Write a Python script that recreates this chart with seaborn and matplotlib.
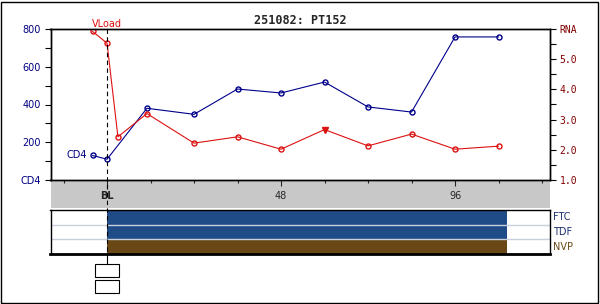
import matplotlib
matplotlib.use("Agg")
import matplotlib.pyplot as plt
import seaborn as sns
import pandas as pd
from matplotlib.patches import Rectangle
from matplotlib.lines import Line2D
import matplotlib.transforms as mtransforms

# ---------------- data ----------------
title = "251082: PT152"
cd4_weeks = [-4, 0, 11, 24, 36, 48, 60, 72, 84, 96, 108]
cd4_vals = [130, 110, 380, 348, 482, 461, 519, 387, 360, 758, 758]
vl_weeks = [-4, 0, 3, 11, 24, 36, 48, 60, 72, 84, 96, 108]
vl_vals = [5.92, 5.53, 2.43, 3.20, 2.22, 2.43, 2.02, 2.67, 2.13, 2.52, 2.02, 2.12]
vl_marker = ["o", "o", "o", "o", "o", "o", "o", "v", "o", "o", "o", "o"]
x_major = [0, 48, 96]
x_major_labels = ["BL", "48", "96"]
x_minor = [-12, 12, 24, 36, 60, 72, 84, 108, 120]
cd4_ticks = [0, 200, 400, 600, 800]
cd4_tick_labels = ["CD4", "200", "400", "600", "800"]
rna_ticks = [1, 2, 3, 4, 5, 6]
rna_tick_labels = ["1.0", "2.0", "3.0", "4.0", "5.0", "RNA"]
drugs = ["FTC", "TDF", "NVP"]
drug_start = [0, 0, 0]
drug_end = [110.3, 110.3, 110.3]
drug_colors = ["#1f4b86", "#1f4b86", "#6a4815"]
drug_label_colors = ["#1a2f6e", "#1a2f6e", "#6a4815"]

# ---------------- layout helpers ----------------
W, H = 600, 304
fig = plt.figure(figsize=(W / 100, H / 100), dpi=100)
sns.set_style("white")
plt.rcParams["font.family"] = ["DejaVu Sans"]


def fx(x):
    return x / W


def fy(y):
    return 1 - y / H


XMIN, XMAX = -15.6, 122.2
L, R, T, B = 50.5, 550, 29, 180

ax = fig.add_axes([fx(L), fy(B), fx(R - L), (B - T) / H])
ax.set_xlim(XMIN, XMAX)
ax.set_ylim(0, 800)
ax.set_facecolor("white")
ax2 = ax.twinx()
ax2.set_ylim(1, 6)

navy = "#000080"
cd4_col = "#00008b"
vl_col = "#dd1111"
rna_col = "#800000"

# CD4 series
df_cd4 = pd.DataFrame({"week": cd4_weeks, "cd4": cd4_vals})
sns.lineplot(data=df_cd4, x="week", y="cd4", ax=ax, color=cd4_col, linewidth=0.8,
             marker="o", markersize=3.6, markerfacecolor="none",
             markeredgecolor=cd4_col, markeredgewidth=1.0)

# Viral load series
df_vl = pd.DataFrame({"week": vl_weeks, "rna": vl_vals, "m": vl_marker})
sns.lineplot(data=df_vl, x="week", y="rna", ax=ax2, color=vl_col, linewidth=0.8)
circ = df_vl[df_vl["m"] == "o"]
tri = df_vl[df_vl["m"] == "v"]
ax2.plot(circ["week"], circ["rna"], ls="none", marker="o", ms=3.6, mfc="none",
         mec=vl_col, mew=1.0)
ax2.plot(tri["week"], tri["rna"], ls="none", marker="v", ms=4.5, mfc=vl_col,
         mec=vl_col)

# axes styling
for a in (ax, ax2):
    for s in a.spines.values():
        s.set_color("black")
        s.set_linewidth(1.0)
    a.set_xlabel("")
    a.set_ylabel("")

ax.set_yticks(cd4_ticks)
ax.set_yticklabels(cd4_tick_labels)
ax.set_yticks([100, 300, 500, 700], minor=True)
ax.tick_params(axis="y", which="both", direction="out", length=4, width=0.8,
               color="black", labelcolor=navy, labelsize=7, pad=3, left=True)

ax2.set_yticks(rna_ticks)
ax2.set_yticklabels(rna_tick_labels, family="DejaVu Sans Mono")
ax2.set_yticks([1.5, 2.5, 3.5, 4.5, 5.5], minor=True)
ax2.tick_params(axis="y", which="both", direction="out", length=4, width=0.8,
                color="black", labelcolor=rna_col, labelsize=7, pad=3, right=True)

ax.set_xticks(x_major)
ax.set_xticklabels(x_major_labels)
ax.set_xticks(x_minor, minor=True)
ax.tick_params(axis="x", which="major", direction="out", length=4, width=0.8,
               labelsize=7, pad=4, bottom=True)
ax.tick_params(axis="x", which="minor", direction="out", length=2, width=0.8,
               bottom=True)
ax.get_xticklabels()[0].set_fontweight("bold")
ax2.tick_params(axis="x", which="both", bottom=False)

# series labels
trans = mtransforms.blended_transform_factory(ax.transData, ax.transAxes)
ax.text(cd4_weeks[0] - 0.3, 1.0, "VLoad", transform=trans, color=vl_col,
        fontsize=7, ha="left", va="bottom")
ax.annotate("CD4", xy=(cd4_weeks[0], cd4_vals[0]), xytext=(-4, 0),
            textcoords="offset points", color=navy, fontsize=7, ha="right",
            va="center")

# title
fig.text(0.5, fy(20), title, ha="center", va="center", fontsize=8.5,
         fontweight="bold", family="DejaVu Sans Mono")

# gray band
fig.patches.append(Rectangle((fx(L), fy(208)), fx(R - L), (208 - B) / H,
                             transform=fig.transFigure, facecolor="#c8c8c8",
                             edgecolor="none", zorder=-1))

# regimen panel
rax = fig.add_axes([fx(L), fy(254), fx(R - L), (254 - 210) / H])
rax.set_xlim(XMIN, XMAX)
rax.set_ylim(len(drugs), 0)
ypos = list(range(len(drugs)))
rax.barh([y + 0.5 for y in ypos], [e - s for s, e in zip(drug_start, drug_end)],
         left=drug_start, height=1.0, color=drug_colors, edgecolor="none")
for y in ypos[1:]:
    rax.axhline(y, color="#c8d0dc", lw=1.0)
rax.set_xticks([])
rax.set_yticks([])
for s in rax.spines.values():
    s.set_color("black")
    s.set_linewidth(1.0)
rax.spines["bottom"].set_linewidth(2.0)
for y, d, c in zip(ypos, drugs, drug_label_colors):
    rax.text(1.006, 1 - (y + 0.5) / len(drugs), d, transform=rax.transAxes,
             color=c, fontsize=7, ha="left", va="center")

# baseline line
x0 = fx(L) + fx(R - L) * (0 - XMIN) / (XMAX - XMIN)
fig.lines.append(Line2D([x0, x0], [fy(T), fy(254)], transform=fig.transFigure,
                        color="black", lw=0.8, ls=(0, (4, 3)), zorder=5))
fig.lines.append(Line2D([x0, x0], [fy(254), fy(264)], transform=fig.transFigure,
                        color="black", lw=0.8, zorder=5))

# small boxes
for y0, y1 in [(264, 277), (280, 293)]:
    fig.patches.append(Rectangle((fx(95), fy(y1)), fx(24), (y1 - y0) / H,
                                 transform=fig.transFigure, facecolor="white",
                                 edgecolor="black", lw=0.8))

# outer border
fig.patches.append(Rectangle((0.002, 0.003), 0.995, 0.992, transform=fig.transFigure,
                             facecolor="none", edgecolor="black", lw=1.0))

fig.savefig("out.png", dpi=100)
